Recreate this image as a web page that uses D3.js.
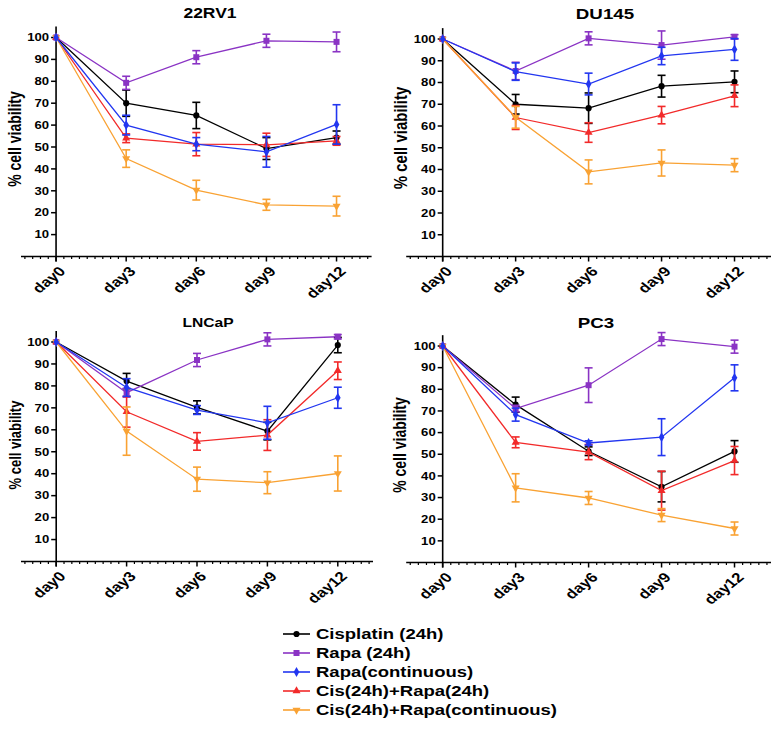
<!DOCTYPE html>
<html>
<head>
<meta charset="utf-8">
<script src="https://cdn.jsdelivr.net/npm/d3@7"></script>
<style>
  body { margin: 0; background: #fff; }
  text { font-family: "Liberation Sans", Arial, sans-serif; font-weight: bold; }
</style>
</head>
<body>
<div class="chart"></div>
<script>
// x categories
var days = [0, 3, 6, 9, 12];
var dayLabels = ["day0", "day3", "day6", "day9", "day12"];
var yTicks = [10, 20, 30, 40, 50, 60, 70, 80, 90, 100];

var seriesNames = ["Cisplatin (24h)", "Rapa (24h)", "Rapa(continuous)",
                   "Cis(24h)+Rapa(24h)", "Cis(24h)+Rapa(continuous)"];
var panelNames = ["22RV1", "DU145", "LNCaP", "PC3"];

// means / error per series (rows follow seriesNames)
var rv1Means = [[100, 70, 64.4, 49.3, 54.3], [100, 79.3, 91, 98.5, 98], [100, 60, 51.3, 47.8, 60.3],
                [100, 54, 51.3, 51, 52.8], [100, 44.7, 30.3, 23.6, 23]];
var rv1Errs = [[0, 6, 6, 5, 3], [0, 3, 3, 3, 4.5], [0, 4.5, 3, 7, 9],
               [0, 2, 5.3, 5.3, 2], [0, 4, 4.5, 2.5, 4.5]];

var du145Means = [[100, 70, 68.2, 78.3, 80.3], [100, 85.3, 100.3, 97.2, 101], [100, 85, 79.3, 92.2, 95.2],
                  [100, 63.9, 57, 65, 73.9], [100, 64, 38.9, 43, 42]];
var du145Errs = [[0, 4.5, 7, 5, 5], [0, 4, 3, 6.5, 1], [0, 4, 5, 4, 5],
                 [0, 5.5, 4.5, 4, 5], [0, 5, 5.5, 6, 3]];

var lncapMeans = [[100, 82.2, 70.2, 59.4, 98.6], [100, 76.9, 91.8, 101.2, 102.4], [100, 79.3, 69, 63.2, 74.6],
                  [100, 68.2, 54.7, 57.6, 86.9], [100, 59.4, 37.5, 35.9, 40.1]];
var lncapErrs = [[0, 3.5, 3, 4, 3.5], [0, 2, 3, 3, 1], [0, 4, 2, 7.5, 4.8],
                 [0, 7, 4, 7, 4], [0, 11, 5.5, 5, 8]];

var pc3Means = [[100, 72.9, 51.4, 35, 51.3], [100, 71.1, 81.9, 103.2, 99.7], [100, 68.3, 55.2, 57.9, 85.3],
                [100, 55.5, 51, 33.2, 47.1], [100, 34.5, 29.8, 21.9, 15.7]];
var pc3Errs = [[0, 3.5, 2, 7, 5], [0, 1.5, 8, 3, 3], [0, 3, 1, 8.5, 6],
               [0, 2.5, 3.5, 9, 6.5], [0, 6.5, 3, 3, 3]];

var allMeans = [rv1Means, du145Means, lncapMeans, pc3Means];
var allErrs = [rv1Errs, du145Errs, lncapErrs, pc3Errs];

// styles
var colors = ["#000000", "#8a33c4", "#2236f0", "#f22a2a", "#f9a233"];
var symbols = [d3.symbolCircle, d3.symbolSquare, d3.symbolDiamond, d3.symbolTriangle, d3.symbolTriangle];
var symSize = [30, 36, 28, 28, 28];
var symRot = [0, 0, 0, 0, 180];
var drawOrder = [0, 1, 3, 4, 2];
var SX = 1.25; // source picture is stretched horizontally

// panel placement
var layout = [
  {x0: 21, x1: 371.6, y0: 256.5, y100: 37.5, tx: 210, ty: 17.5, ts: 14, lx: 15, ly: 139, ls: 14},
  {x0: 406.2, x1: 771, y0: 256.5, y100: 39, tx: 605, ty: 18.5, ts: 15, lx: 400, ly: 138, ls: 15},
  {x0: 21, x1: 373, y0: 561.5, y100: 342, tx: 208, ty: 326.5, ts: 12.5, lx: 15, ly: 445, ls: 13},
  {x0: 406.2, x1: 771, y0: 562.5, y100: 346, tx: 596, ty: 328, ts: 15, lx: 400, ly: 445, ls: 14}
];

var svg = d3.select(".chart").append("svg")
    .attr("width", 775)
    .attr("height", 732);

function drawPanel(p) {
  var L = layout[p];
  var x = d3.scaleLinear().domain([-1.5, 13.5]).range([L.x0, L.x1]);
  var y = d3.scaleLinear().domain([0, 100]).range([L.y0, L.y100]);
  var g = svg.append("g");

  // title
  g.append("text")
    .attr("transform", "translate(" + L.tx + "," + L.ty + ") scale(" + SX + ",1)")
    .attr("text-anchor", "middle")
    .style("font-size", L.ts + "px")
    .text(panelNames[p]);

  // y label
  g.append("text")
    .attr("transform", "translate(" + L.lx + "," + L.ly + ") scale(" + SX + ",1) rotate(-90)")
    .attr("text-anchor", "middle")
    .attr("dy", "0.35em")
    .style("font-size", L.ls + "px")
    .text("% cell viability");

  // x axis: line + major and minor ticks
  var xa = g.append("g");
  xa.append("line")
    .attr("x1", x(-1.5)).attr("x2", x(13.5))
    .attr("y1", y(0)).attr("y2", y(0))
    .attr("stroke", "#000").attr("stroke-width", 1.6);
  var minor = d3.range(-4, 41).map(function(i) { return i / 3; })
      .filter(function(d) { return Math.abs(d - Math.round(d / 3) * 3) > 0.01; });
  xa.selectAll(".minor").data(minor).enter().append("line")
    .attr("x1", function(d) { return x(d); }).attr("x2", function(d) { return x(d); })
    .attr("y1", y(0)).attr("y2", y(0) + 2.5)
    .attr("stroke", "#000").attr("stroke-width", 1.2);
  xa.selectAll(".major").data(days).enter().append("line")
    .attr("x1", function(d) { return x(d); }).attr("x2", function(d) { return x(d); })
    .attr("y1", y(0)).attr("y2", y(0) + 5)
    .attr("stroke", "#000").attr("stroke-width", 1.5);
  xa.selectAll(".xlab").data(days).enter().append("text")
    .attr("transform", function(d) {
      return "translate(" + (x(d) + 2) + "," + (y(0) + 9) + ") scale(" + SX + ",1) rotate(-45)";
    })
    .attr("text-anchor", "end")
    .attr("dy", "0.7em")
    .style("font-size", "13.5px")
    .text(function(d, i) { return dayLabels[i]; });

  // y axis
  var ya = g.append("g");
  ya.append("line")
    .attr("x1", x(0)).attr("x2", x(0))
    .attr("y1", y(0) + 5).attr("y2", y(105))
    .attr("stroke", "#000").attr("stroke-width", 1.6);
  ya.selectAll(".yt").data(yTicks).enter().append("line")
    .attr("x1", x(0) - 5).attr("x2", x(0))
    .attr("y1", function(d) { return y(d); }).attr("y2", function(d) { return y(d); })
    .attr("stroke", "#000").attr("stroke-width", 1.5);
  ya.selectAll(".ylab").data(yTicks).enter().append("text")
    .attr("transform", function(d) {
      return "translate(" + (x(0) - 7) + "," + y(d) + ") scale(" + SX + ",1)";
    })
    .attr("text-anchor", "end")
    .attr("dy", "0.36em")
    .style("font-size", "10.5px")
    .text(function(d) { return d; });

  var line = d3.line()
    .x(function(d) { return x(d.day); })
    .y(function(d) { return y(d.v); });

  drawOrder.forEach(function(s) {
    var pts = days.map(function(d, i) {
      return {day: d, v: allMeans[p][s][i], e: allErrs[p][s][i]};
    });
    var sg = g.append("g");
    sg.append("path")
      .datum(pts)
      .attr("fill", "none")
      .attr("stroke", colors[s])
      .attr("stroke-width", 1.3)
      .attr("d", line);

    var eb = sg.selectAll(".err").data(pts.filter(function(d) { return d.e > 0; })).enter().append("g");
    eb.append("line")
      .attr("x1", function(d) { return x(d.day); }).attr("x2", function(d) { return x(d.day); })
      .attr("y1", function(d) { return y(d.v - d.e); }).attr("y2", function(d) { return y(d.v + d.e); })
      .attr("stroke", colors[s]).attr("stroke-width", 1.6);
    [-1, 1].forEach(function(sign) {
      eb.append("line")
        .attr("x1", function(d) { return x(d.day) - 4; }).attr("x2", function(d) { return x(d.day) + 4; })
        .attr("y1", function(d) { return y(d.v + sign * d.e); })
        .attr("y2", function(d) { return y(d.v + sign * d.e); })
        .attr("stroke", colors[s]).attr("stroke-width", 1.6);
    });

    sg.selectAll(".pt").data(pts).enter().append("path")
      .attr("transform", function(d) {
        return "translate(" + x(d.day) + "," + y(d.v) + ") rotate(" + symRot[s] + ")";
      })
      .attr("d", d3.symbol().type(symbols[s]).size(symSize[s]))
      .attr("fill", colors[s]);
  });
}

panelNames.forEach(function(n, p) { drawPanel(p); });

// legend
var legend = svg.append("g").attr("class", "legend");
var legY = d3.scaleLinear().domain([0, 4]).range([634, 710]);
seriesNames.forEach(function(name, s) {
  var row = legend.append("g").attr("transform", "translate(0," + legY(s) + ")");
  row.append("line")
    .attr("x1", 283).attr("x2", 310)
    .attr("stroke", colors[s]).attr("stroke-width", 1.6);
  row.append("path")
    .attr("transform", "translate(296.5,0) rotate(" + symRot[s] + ")")
    .attr("d", d3.symbol().type(symbols[s]).size(symSize[s]))
    .attr("fill", colors[s]);
  row.append("text")
    .attr("transform", "translate(316,0) scale(" + SX + ",1)")
    .attr("dy", "0.36em")
    .style("font-size", "14.8px")
    .text(name);
});
</script>
</body>
</html>
